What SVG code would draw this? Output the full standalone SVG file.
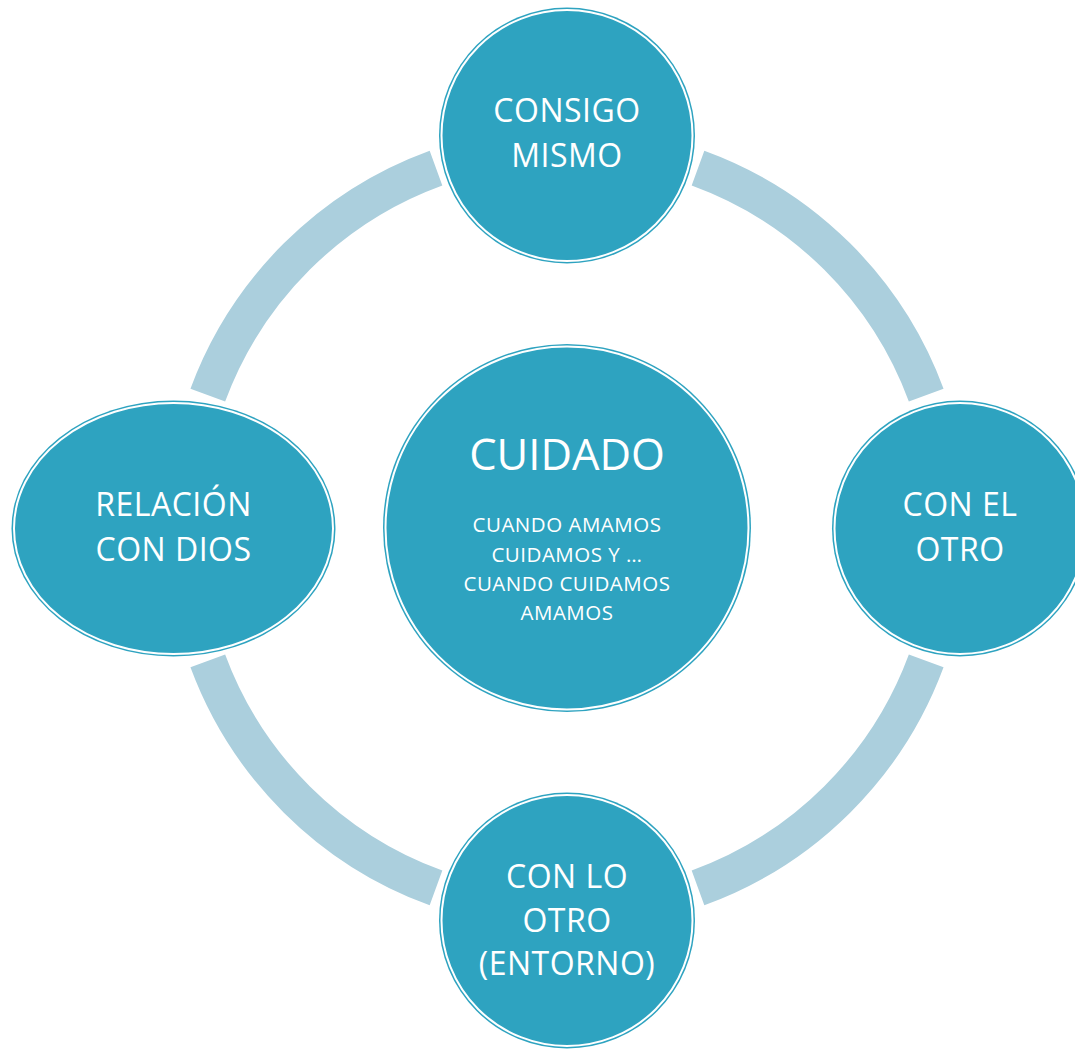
<svg xmlns="http://www.w3.org/2000/svg" width="1075" height="1049" viewBox="0 0 1075 1049">
<style>
.ring{fill:none;stroke:#abcfdd;stroke-width:37;stroke-linecap:butt}
.node{fill:#2ea3c0}
.edge{fill:none;stroke:#ffffff;stroke-width:2}
.t{fill:#ffffff;font-family:"Open Sans","Noto Sans","DejaVu Sans",sans-serif;text-anchor:middle}
.big{font-size:32px;letter-spacing:0.5px}
.sub{font-size:20.5px;letter-spacing:0.5px}
</style>
<rect width="1075" height="1049" fill="#ffffff"/>
<g id="connectors">
<path class="ring" d="M 207.8 395.1 A 383 383 0 0 1 436 168.1"/>
<path class="ring" d="M 698 168.1 A 383 383 0 0 1 926.2 395.1"/>
<path class="ring" d="M 926.2 660.9 A 383 383 0 0 1 698 887.9"/>
<path class="ring" d="M 436 887.9 A 383 383 0 0 1 207.8 660.9"/>
</g>
<g id="center">
<circle class="node" cx="567" cy="528" r="184"/>
<circle class="edge" cx="567" cy="528" r="181.5"/>
<text class="t" x="567" y="470" font-size="43.5">CUIDADO</text>
<text class="t sub" x="567" y="531.5">CUANDO AMAMOS</text>
<text class="t sub" x="567" y="561.5">CUIDAMOS Y …</text>
<text class="t sub" x="567" y="590.5">CUANDO CUIDAMOS</text>
<text class="t sub" x="567" y="620">AMAMOS</text>
</g>
<g id="top">
<circle class="node" cx="567" cy="135.5" r="128"/>
<circle class="edge" cx="567" cy="135.5" r="125.5"/>
<text class="t big" x="567" y="122">CONSIGO</text>
<text class="t big" x="567" y="166.5">MISMO</text>
</g>
<g id="right">
<circle class="node" cx="960" cy="528.5" r="128"/>
<circle class="edge" cx="960" cy="528.5" r="125.5"/>
<text class="t big" x="960" y="516">CON EL</text>
<text class="t big" x="960" y="560.5">OTRO</text>
</g>
<g id="bottom">
<circle class="node" cx="567" cy="920.5" r="128"/>
<circle class="edge" cx="567" cy="920.5" r="125.5"/>
<text class="t big" x="567" y="887.5">CON LO</text>
<text class="t big" x="567" y="931.5">OTRO</text>
<text class="t big" x="567" y="975">(ENTORNO)</text>
</g>
<g id="left">
<ellipse class="node" cx="173.5" cy="528.5" rx="162" ry="128"/>
<ellipse class="edge" cx="173.5" cy="528.5" rx="159.5" ry="125.5"/>
<text class="t big" x="173.5" y="516">RELACIÓN</text>
<text class="t big" x="173.5" y="560.5">CON DIOS</text>
</g>
</svg>
